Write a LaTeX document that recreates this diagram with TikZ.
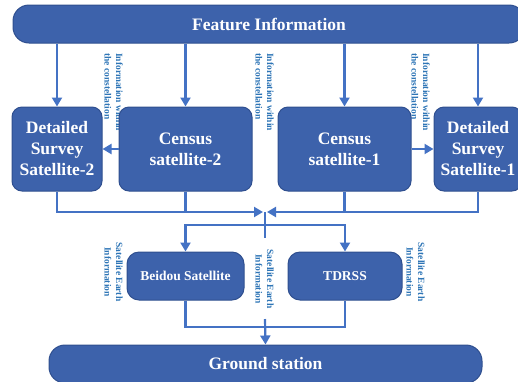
\documentclass[tikz,border=0pt]{standalone}
\usepackage{fontspec}
\setmainfont{Liberation Serif}
\definecolor{BoxBlue}{HTML}{3D62AB}
\definecolor{EdgeBlue}{HTML}{2F4F8F}
\definecolor{LineBlue}{HTML}{4472C4}
\definecolor{LabelBlue}{HTML}{2E75B6}
\usetikzlibrary{arrows.meta,calc}
\tikzset{
  satbox/.style={draw=EdgeBlue,line width=1pt,fill=BoxBlue,text=white,
    rounded corners=10pt,align=center,inner sep=0pt,
    font=\fontsize{17.5}{21}\selectfont\bfseries},
  smallbox/.style={satbox,rounded corners=12pt,
    font=\fontsize{13.5}{16}\selectfont\bfseries},
  wideband/.style={satbox,rounded corners=16pt},
  link/.style={draw=LineBlue,line width=2.2pt},
  flow/.style={link,-{Triangle[length=9pt,width=10pt]}},
  infolabel/.style={text=LabelBlue,rotate=-90,inner sep=0pt,
    font=\fontsize{9.5}{11.5}\selectfont\bfseries},
}

\begin{document}
\begin{tikzpicture}[x=1pt,y=-1pt]
  \useasboundingbox (0,0) rectangle (518,381);

  % labels sit behind the boxes
  \node[infolabel,anchor=north west,align=left] (within2) at (123,53)
    {Information within\\the constellation};
  \node[infolabel,anchor=north west,align=left] (withinmid) at (274,53)
    {Information within\\the constellation};
  \node[infolabel,anchor=north west,align=left] (within1) at (430,53)
    {Information within\\the constellation};
  \node[infolabel,anchor=north,align=center] (earthl) at (123,272)
    {Satellite Earth\\Information};
  \node[infolabel,anchor=north,align=center] (earthm) at (274,279)
    {Satellite Earth\\Information};
  \node[infolabel,anchor=north,align=center] (earthr) at (425,272)
    {Satellite Earth\\Information};

  % boxes
  \node[wideband,minimum width=512pt,minimum height=38pt] (feat) at (269,24)
    {Feature Information};
  \node[satbox,minimum width=90pt,minimum height=84pt] (det2) at (57,149)
    {Detailed\\Survey\\Satellite-2};
  \node[satbox,minimum width=133pt,minimum height=84pt] (cen2) at (185.5,149)
    {Census\\satellite-2};
  \node[satbox,minimum width=133pt,minimum height=84pt] (cen1) at (344.5,149)
    {Census\\satellite-1};
  \node[satbox,minimum width=88pt,minimum height=84pt] (det1) at (478,149)
    {Detailed\\Survey\\Satellite-1};
  \node[smallbox,minimum width=117pt,minimum height=48pt] (beidou) at (185.5,276)
    {Beidou Satellite};
  \node[smallbox,minimum width=114pt,minimum height=48pt] (tdrss) at (345,276)
    {TDRSS};
  \node[wideband,minimum width=433pt,minimum height=38pt] (ground) at (265.5,364)
    {Ground station};

  % junction points
  \coordinate (jl) at (263,212);
  \coordinate (jr) at (267,212);
  \coordinate (jtop) at (265,212);
  \coordinate (jbot) at (265,238);
  \coordinate (split) at (265,225);
  \coordinate (merge) at (265,327);
  \coordinate (drop) at (265,319);

  % connectors
  \foreach \n in {det2,cen2,cen1,det1}
    \draw[flow] (feat.south -| \n.north) -- (\n.north);
  \draw[flow] (cen2.west) -- (det2.east);
  \draw[flow] (cen1.east) -- (det1.west);
  \draw[flow] (det2.south) |- (jl);
  \draw[link] (cen2.south) -- (cen2.south |- jl);
  \draw[flow] (det1.south) |- (jr);
  \draw[link] (cen1.south) -- (cen1.south |- jr);
  \draw[link] (jtop) -- (jbot);
  \draw[flow] (split) -| (beidou.north);
  \draw[flow] (split) -| (tdrss.north);
  \draw[link] (beidou.south) |- (merge) -| (tdrss.south);
  \draw[flow] (drop) -- (ground.north);
\end{tikzpicture}
\end{document}
